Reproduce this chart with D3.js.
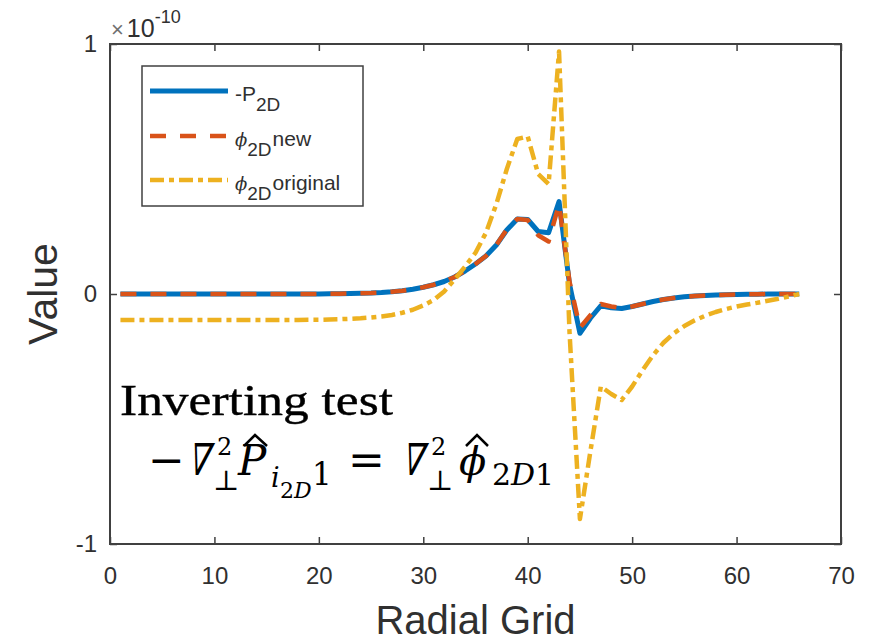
<!DOCTYPE html>
<html>
<head>
<meta charset="utf-8">
<script src="https://cdn.jsdelivr.net/npm/d3@7"></script>
<style>
  body { margin: 0; background: #fff; }
  svg { display: block; }
  .tick text { font-family: "Liberation Sans", Arial, sans-serif; }
</style>
</head>
<body>
<div id="chart"></div>
<script>
// data (values in units of 1e-10)
const radialGrid = [1,2,3,4,5,6,7,8,9,10,11,12,13,14,15,16,17,18,19,20,21,22,23,24,25,26,27,28,29,30,
  31,32,33,34,35,36,37,38,39,40,41,42,43,44,45,46,47,48,49,50,51,52,53,54,55,56,57,58,59,60,
  61,62,63,64,65,66];

const negP2D = [0,0,0,0,0,0,0,0,0,0,0,0,0,0,0,0,0,0,0,0,
  0.001,0.001,0.002,0.003,0.004,0.006,0.009,0.013,0.019,0.027,
  0.037,0.05,0.068,0.092,0.12,0.152,0.196,0.256,0.30,0.298,
  0.25,0.245,0.37,0.04,-0.157,-0.097,-0.047,-0.055,-0.058,-0.05,
  -0.04,-0.03,-0.022,-0.016,-0.011,-0.008,-0.006,-0.004,-0.003,-0.002,
  -0.001,-0.001,0,0,0,0];

const phiNew = [0,0,0,0,0,0,0,0,0,0,0,0,0,0,0,0,0,0,0,0,
  0.001,0.001,0.002,0.003,0.004,0.006,0.009,0.013,0.019,0.027,
  0.037,0.05,0.068,0.092,0.12,0.152,0.196,0.258,0.30,0.296,
  0.235,0.21,0.36,0.05,-0.135,-0.085,-0.04,-0.05,-0.056,-0.05,
  -0.04,-0.03,-0.022,-0.016,-0.011,-0.008,-0.006,-0.004,-0.003,-0.002,
  -0.001,-0.001,0,0,0,0];

const phiOriginal = [-0.104,-0.104,-0.104,-0.104,-0.104,-0.104,-0.104,-0.104,-0.104,-0.104,
  -0.104,-0.104,-0.104,-0.104,-0.104,-0.104,-0.104,-0.104,-0.103,-0.103,
  -0.102,-0.101,-0.099,-0.097,-0.094,-0.09,-0.084,-0.075,-0.063,-0.046,
  -0.024,0.01,0.058,0.11,0.165,0.245,0.36,0.5,0.62,0.63,
  0.48,0.44,0.97,-0.15,-0.9,-0.63,-0.37,-0.4,-0.424,-0.37,
  -0.305,-0.245,-0.195,-0.157,-0.128,-0.105,-0.087,-0.072,-0.06,-0.05,
  -0.042,-0.035,-0.027,-0.019,-0.01,0];

const xTicks = [0,10,20,30,40,50,60,70];
const yTicks = [-1,0,1];

const series = [
  { name: "negP2D", values: negP2D, color: "#0072BD", dash: null, width: 5 },
  { name: "phiNew", values: phiNew, color: "#D95319", dash: "16,14", width: 4.5 },
  { name: "phiOriginal", values: phiOriginal, color: "#EDB120", dash: "14,5,5,5", width: 4.5 }
];

const W = 877, H = 641;
const plot = { left: 110, right: 841, top: 44, bottom: 544 };
const axisColor = "#404040";
const textColor = "#303030";

const svg = d3.select("#chart").append("svg")
  .attr("width", W)
  .attr("height", H);

const x = d3.scaleLinear().domain([0, 70]).range([plot.left, plot.right]);
const y = d3.scaleLinear().domain([-1, 1]).range([plot.bottom, plot.top]);

// lines
const line = d3.line()
  .x((d, i) => x(radialGrid[i]))
  .y(d => y(d));

svg.selectAll("path.data-line")
  .data(series)
  .enter()
  .append("path")
  .attr("class", "data-line")
  .attr("d", d => line(d.values))
  .style("fill", "none")
  .style("stroke", d => d.color)
  .style("stroke-width", d => d.width)
  .style("stroke-linejoin", "round")
  .style("stroke-dasharray", d => d.dash);

// axes (ticks point inward like MATLAB)
function styleAxis(g) {
  g.select(".domain").remove();
  g.selectAll(".tick line").attr("stroke", axisColor).attr("stroke-width", 1.5);
  g.selectAll(".tick text").attr("fill", textColor).style("font-size", "24px");
}

svg.append("g")
  .attr("transform", `translate(0,${plot.bottom})`)
  .call(d3.axisBottom(x).tickValues(xTicks).tickSize(-7).tickPadding(23).tickFormat(d => String(d)))
  .call(styleAxis);

svg.append("g")
  .attr("transform", `translate(0,${plot.top})`)
  .call(d3.axisTop(x).tickValues(xTicks).tickSize(-7).tickFormat(""))
  .call(styleAxis);

svg.append("g")
  .attr("transform", `translate(${plot.left},0)`)
  .call(d3.axisLeft(y).tickValues(yTicks).tickSize(-7).tickPadding(13).tickFormat(d => String(d)))
  .call(styleAxis);

svg.append("g")
  .attr("transform", `translate(${plot.right},0)`)
  .call(d3.axisRight(y).tickValues(yTicks).tickSize(-7).tickFormat(""))
  .call(styleAxis);

// box
svg.append("rect")
  .attr("x", plot.left)
  .attr("y", plot.top)
  .attr("width", plot.right - plot.left)
  .attr("height", plot.bottom - plot.top)
  .attr("fill", "none")
  .attr("stroke", axisColor)
  .attr("stroke-width", 2);

// exponent label
const expo = svg.append("text")
  .attr("x", 111)
  .attr("y", 37)
  .attr("fill", "#707070")
  .style("font-family", "'Liberation Sans', Arial, sans-serif");
expo.append("tspan").style("font-size", "22px").text("\u00D7");
expo.append("tspan").attr("dx", 3).style("font-size", "25px").attr("fill", textColor).text("10");
expo.append("tspan").attr("dy", -14).style("font-size", "18px").attr("fill", textColor).text("-10");

// axis labels
svg.append("text")
  .attr("x", (plot.left + plot.right) / 2)
  .attr("y", 634)
  .attr("text-anchor", "middle")
  .attr("fill", textColor)
  .style("font-family", "'Liberation Sans', Arial, sans-serif")
  .style("font-size", "40px")
  .text("Radial Grid");

svg.append("text")
  .attr("transform", `translate(57,${(plot.top + plot.bottom) / 2}) rotate(-90)`)
  .attr("text-anchor", "middle")
  .attr("fill", textColor)
  .style("font-family", "'Liberation Sans', Arial, sans-serif")
  .style("font-size", "41px")
  .text("Value");

// legend
const legendBox = svg.append("g");
legendBox.append("rect")
  .attr("x", 142).attr("y", 66)
  .attr("width", 221).attr("height", 140)
  .attr("fill", "#fff")
  .attr("stroke", axisColor)
  .attr("stroke-width", 1.5);

const legendRows = [
  { s: series[0], y: 91, main: "-P", sub: "2D", tail: "" },
  { s: series[1], y: 136, main: "\u03D5", sub: "2D", tail: "new" },
  { s: series[2], y: 180, main: "\u03D5", sub: "2D", tail: "original" }
];

const legend = legendBox.selectAll(".legend")
  .data(legendRows)
  .enter()
  .append("g")
  .attr("class", "legend");

legend.append("line")
  .attr("x1", 150).attr("x2", 228)
  .attr("y1", d => d.y).attr("y2", d => d.y)
  .style("stroke", d => d.s.color)
  .style("stroke-width", d => d.s.width)
  .style("stroke-dasharray", d => d.s.dash);

const lt = legend.append("text")
  .attr("x", 235)
  .attr("y", d => d.y + 10)
  .attr("fill", textColor)
  .style("font-family", "'Liberation Sans', Arial, sans-serif")
  .style("font-size", "21px");
lt.append("tspan").style("font-style", d => d.main === "-P" ? "normal" : "italic")
  .style("font-family", d => d.main === "-P" ? null : "'DejaVu Serif', serif")
  .style("font-size", d => d.main === "-P" ? "21px" : "18px")
  .text(d => d.main);
lt.append("tspan").attr("dy", 10).style("font-size", "19px").text(d => d.sub);
lt.append("tspan").attr("dy", -10).attr("dx", 1).text(d => d.tail);

// annotation
const ann = svg.append("g").attr("fill", "#000");

ann.append("text")
  .attr("x", 120).attr("y", 415)
  .attr("textLength", 273).attr("lengthAdjust", "spacingAndGlyphs")
  .style("font-family", "'Liberation Serif', 'DejaVu Serif', serif")
  .style("font-size", "45px")
  .style("stroke", "#000").style("stroke-width", 0.4)
  .text("Inverting test");

// equation glyphs: -∇⊥² P̂_{i_{2D}1} = ∇⊥² φ̂_{2D1}
const eqFont = "'DejaVu Serif', serif";
const eq = [
  { t: "\u2212", x: 148, y: 475, size: 44, italic: false },
  { t: "\u2207", x: 186, y: 475, size: 44, italic: false, nabla: true },
  { t: "2", x: 217, y: 455, size: 24, italic: false },
  { t: "\u22A5", x: 213, y: 490, size: 28, italic: false },
  { t: "P", x: 238, y: 475, size: 42, italic: true },
  { t: "i", x: 271, y: 487, size: 27, italic: true },
  { t: "2", x: 280, y: 498, size: 22, italic: false },
  { t: "D", x: 294, y: 498, size: 22, italic: true },
  { t: "1", x: 312, y: 485, size: 31, italic: false },
  { t: "=", x: 348, y: 475, size: 44, italic: false },
  { t: "\u2207", x: 400, y: 475, size: 44, italic: false, nabla: true },
  { t: "2", x: 431, y: 455, size: 24, italic: false },
  { t: "\u22A5", x: 427, y: 490, size: 28, italic: false },
  { t: "\u03D5", x: 459, y: 475, size: 40, italic: true },
  { t: "2", x: 492, y: 485, size: 30, italic: false },
  { t: "D", x: 511, y: 485, size: 30, italic: true },
  { t: "1", x: 535, y: 485, size: 30, italic: false }
];

ann.selectAll(".eq")
  .data(eq)
  .enter()
  .append("text")
  .attr("class", "eq")
  .attr("transform", d => d.nabla
    ? `translate(${d.x},${d.y}) skewX(-14) scale(0.72,1)`
    : `translate(${d.x},${d.y})`)
  .style("font-family", eqFont)
  .style("font-size", d => d.size + "px")
  .style("font-style", d => d.italic ? "italic" : "normal")
  .text(d => d.t);

// hats over P and phi
const hats = [[244, 446, 255, 435, 267, 446], [466, 446, 477, 435, 488, 446]];
ann.selectAll(".hat")
  .data(hats)
  .enter()
  .append("path")
  .attr("class", "hat")
  .attr("d", h => `M${h[0]},${h[1]}L${h[2]},${h[3]}L${h[4]},${h[5]}`)
  .attr("fill", "none")
  .attr("stroke", "#000")
  .attr("stroke-width", 2.5);
</script>
</body>
</html>
